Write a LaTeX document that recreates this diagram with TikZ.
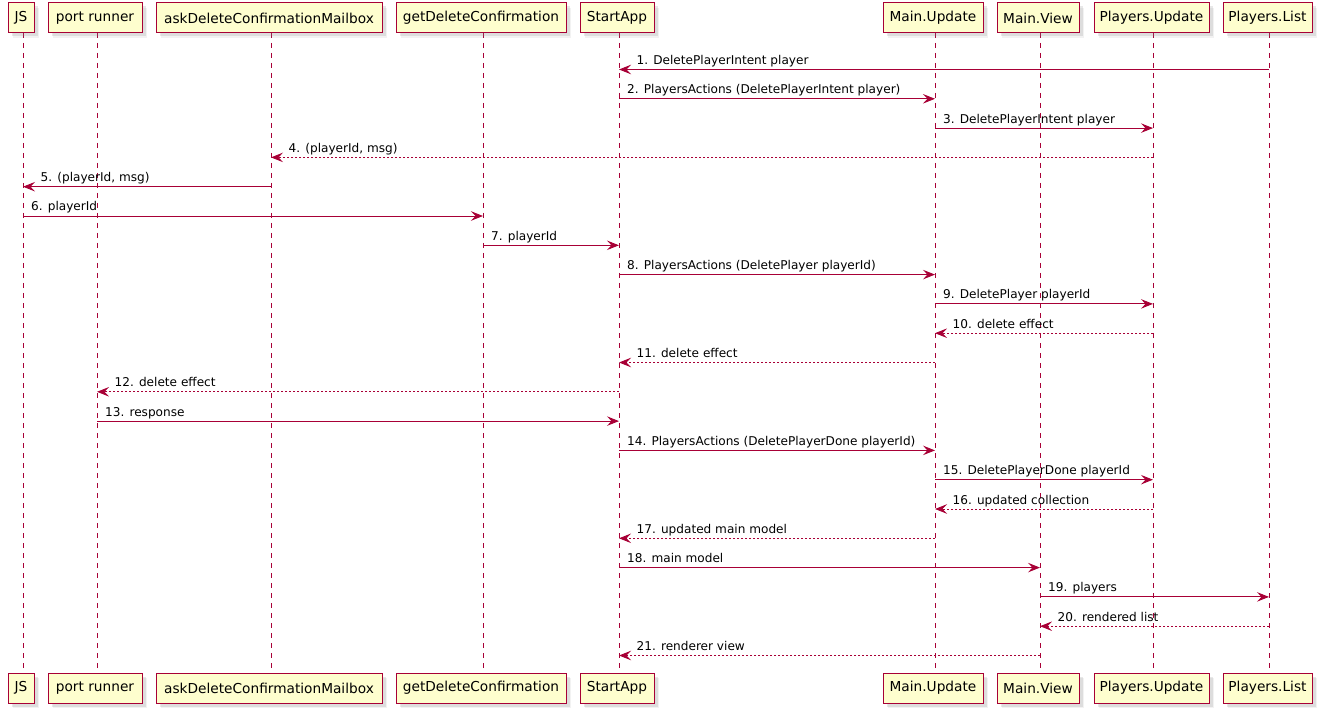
\documentclass[tikz,border=0pt]{standalone}
\usepackage{fontspec}
\setmainfont{DejaVu Sans}
\usetikzlibrary{arrows.meta,shadows}
\definecolor{umlred}{HTML}{A80036}
\definecolor{umlfill}{HTML}{FEFECE}

\tikzset{
  actor box/.style={draw=umlred, line width=1pt, fill=umlfill, rectangle,
    inner sep=0pt, minimum height=30pt, text=black,
    font=\fontsize{13.7}{16}\selectfont,
    drop shadow={shadow xshift=5pt, shadow yshift=-5pt, opacity=0.10},
    drop shadow={shadow xshift=3.5pt, shadow yshift=-3.5pt, opacity=0.18}},
  lifeline/.style={draw=umlred, line width=0.8pt, dash pattern=on 5pt off 5pt},
  call/.style={draw=umlred, line width=0.9pt,
    -{Stealth[length=12pt, width=9.5pt, inset=4.5pt, umlred]}},
  reply/.style={call, dash pattern=on 2pt off 2pt},
  msglabel/.style={anchor=base west, inner sep=0pt, text=black,
    font=\fontsize{12.1}{14}\selectfont}
}

% message to the right: label starts just right of the sender's lifeline
\newcommand\msgR[5]{%
  \coordinate (m#3) at (0,{40.2+29.3*#3});
  \draw[#4] (#1-top |- m#3) -- (#2-top |- m#3);
  \node[msglabel] (lbl#3) at ([xshift=8pt, yshift=5pt]#1-top |- m#3) {#5};
}
% message to the left: label starts just past the arrow head
\newcommand\msgL[5]{%
  \coordinate (m#3) at (0,{40.2+29.3*#3});
  \draw[#4] (#1-top |- m#3) -- (#2-top |- m#3);
  \node[msglabel] (lbl#3) at ([xshift=17.5pt, yshift=5pt]#2-top |- m#3) {#5};
}

\begin{document}
\begin{tikzpicture}[x=1pt, y=-1pt]
\useasboundingbox (0,0) rectangle (1323,714);
\fill[white] (0,0) rectangle (1323,714);

% participants: name / box left / box right / lifeline x / caption
\foreach \na/\lx/\rx/\xx/\tx in {
  JS/8/34/23/JS,
  PR/48/142/97/port runner,
  AM/156/382/271/askDeleteConfirmationMailbox,
  GD/396/566/483/getDeleteConfirmation,
  SA/580/654/619/StartApp,
  MU/883/983/935/Main.Update,
  MV/997/1079/1040/Main.View,
  PU/1094/1209/1153/Players.Update,
  PL/1223/1312/1269/Players.List}{
  \coordinate (\na-top) at (\xx,33);
  \coordinate (\na-bot) at (\xx,673);
  \draw[lifeline] (\na-top) -- (\na-bot);
  \node[actor box, minimum width=\rx pt-\lx pt] (\na-head) at ({(\lx+\rx)/2},18) {\tx};
  \node[actor box, minimum width=\rx pt-\lx pt] (\na-foot) at ({(\lx+\rx)/2},688) {\tx};
}

\msgL{PL}{SA}{1}{call}{1. DeletePlayerIntent player}
\msgR{SA}{MU}{2}{call}{2. PlayersActions (DeletePlayerIntent player)}
\msgR{MU}{PU}{3}{call}{3. DeletePlayerIntent player}
\msgL{PU}{AM}{4}{reply}{4. (playerId, msg)}
\msgL{AM}{JS}{5}{call}{5. (playerId, msg)}
\msgR{JS}{GD}{6}{call}{6. playerId}
\msgR{GD}{SA}{7}{call}{7. playerId}
\msgR{SA}{MU}{8}{call}{8. PlayersActions (DeletePlayer playerId)}
\msgR{MU}{PU}{9}{call}{9. DeletePlayer playerId}
\msgL{PU}{MU}{10}{reply}{10. delete effect}
\msgL{MU}{SA}{11}{reply}{11. delete effect}
\msgL{SA}{PR}{12}{reply}{12. delete effect}
\msgR{PR}{SA}{13}{call}{13. response}
\msgR{SA}{MU}{14}{call}{14. PlayersActions (DeletePlayerDone playerId)}
\msgR{MU}{PU}{15}{call}{15. DeletePlayerDone playerId}
\msgL{PU}{MU}{16}{reply}{16. updated collection}
\msgL{MU}{SA}{17}{reply}{17. updated main model}
\msgR{SA}{MV}{18}{call}{18. main model}
\msgR{MV}{PL}{19}{call}{19. players}
\msgL{PL}{MV}{20}{reply}{20. rendered list}
\msgL{MV}{SA}{21}{reply}{21. renderer view}
\end{tikzpicture}
\end{document}
